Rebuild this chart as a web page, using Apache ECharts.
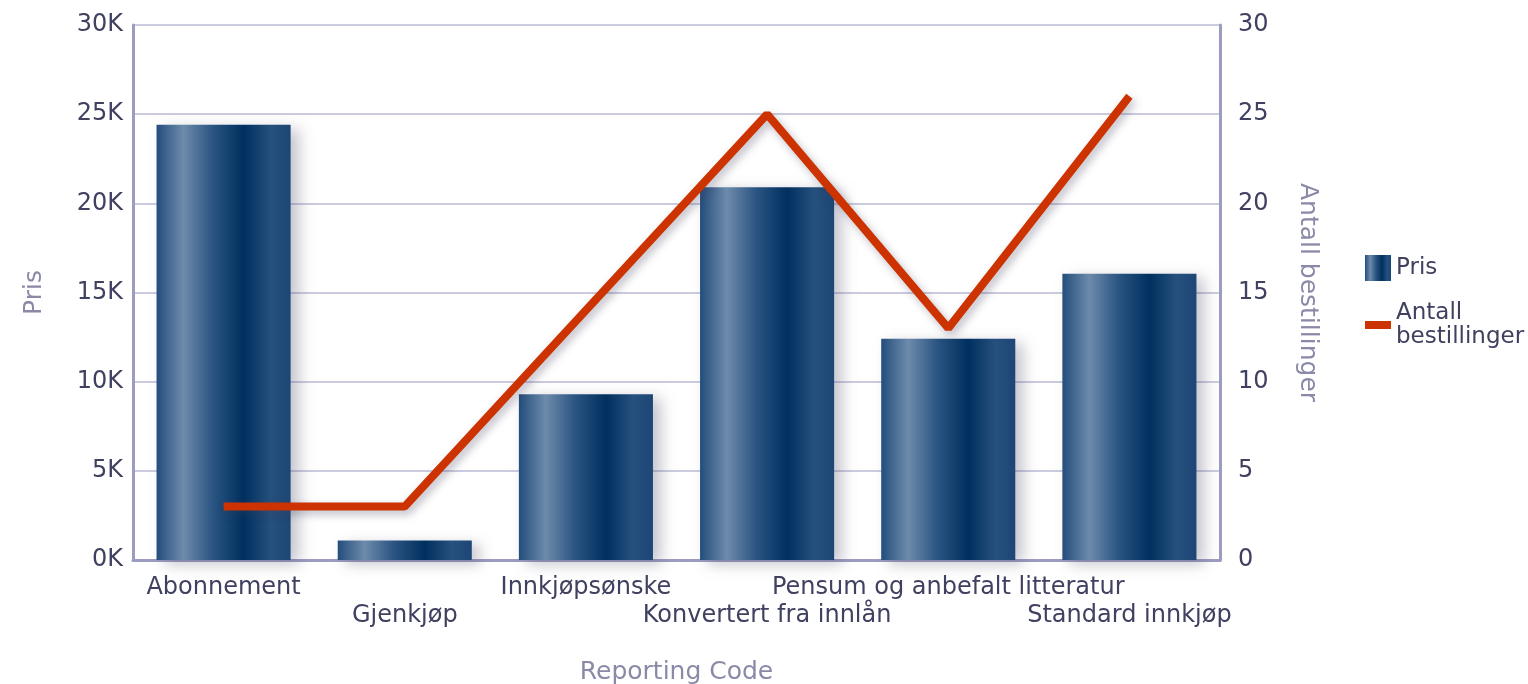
<!DOCTYPE html>
<html>
<head>
    <meta charset="utf-8">
    <script src="https://cdn.jsdelivr.net/npm/echarts@6/dist/echarts.min.js"></script>
    <style>
        html, body { margin: 0; padding: 0; background: #fff; }
        #main { width: 1528px; height: 684px; }
    </style>
</head>
<body>
    <div id="main"></div>
    <script>
        // data
        var categories = ['Abonnement', 'Gjenkjøp', 'Innkjøpsønske', 'Konvertert fra innlån', 'Pensum og anbefalt litteratur', 'Standard innkjøp'];
        var prisValues = [24400, 1100, 9300, 20900, 12400, 16050];
        var antallValues = [3, 3, 14, 25, 13, 26];

        var chart = echarts.init(document.getElementById('main'));

        var txt = '#404060';
        var nameCol = '#8a8aa8';
        var font = 'DejaVu Sans';

        var barGrad = new echarts.graphic.LinearGradient(0, 0, 1, 0, [
            { offset: 0, color: '#244d7c' },
            { offset: 0.2, color: '#6d8bab' },
            { offset: 0.42, color: '#2a5482' },
            { offset: 0.65, color: '#00305f' },
            { offset: 0.85, color: '#26507e' },
            { offset: 1, color: '#1d4676' }
        ]);

        var option = {
            animation: false,
            grid: { left: 133, right: 308, top: 25, bottom: 124, outerBoundsMode: 'none' },
            legend: {
                orient: 'vertical',
                left: 1360,
                top: 250,
                itemGap: 20,
                itemWidth: 26,
                itemHeight: 26,
                textStyle: { color: txt, fontFamily: font, fontSize: 23, lineHeight: 24 },
                data: [
                    { name: 'Pris', icon: 'rect', itemStyle: { color: barGrad } },
                    { name: 'Antall\nbestillinger', icon: 'path://M0,9 L26,9 L26,17 L0,17 Z', itemStyle: { color: '#cc3300' } }
                ]
            },
            xAxis: {
                type: 'category',
                data: categories,
                name: 'Reporting Code',
                nameLocation: 'middle',
                nameGap: 100,
                nameTextStyle: { color: nameCol, fontFamily: font, fontSize: 25 },
                axisLine: { lineStyle: { color: '#9c9cc0', width: 3 } },
                axisTick: { show: false },
                axisLabel: {
                    interval: 0,
                    color: txt,
                    fontFamily: font,
                    fontSize: 24,
                    lineHeight: 28,
                    margin: 14,
                    formatter: function (v, i) { return i % 2 ? '\n' + v : v; }
                }
            },
            yAxis: [{
                type: 'value',
                min: 0, max: 30000, interval: 5000,
                name: 'Pris',
                nameLocation: 'middle',
                nameGap: 86,
                nameTextStyle: { color: nameCol, fontFamily: font, fontSize: 25 },
                axisLine: { show: true, lineStyle: { color: '#9c9cc0', width: 3 } },
                axisLabel: {
                    color: txt, fontFamily: font, fontSize: 24, margin: 10,
                    formatter: function (v) { return (v / 1000) + 'K'; }
                },
                splitLine: { lineStyle: { color: '#cbcbe0', width: 2 } }
            }, {
                type: 'value',
                min: 0, max: 30, interval: 5,
                name: 'Antall bestillinger',
                nameLocation: 'middle',
                nameGap: 75,
                nameRotate: -90,
                nameTextStyle: { color: nameCol, fontFamily: font, fontSize: 25 },
                axisLine: { show: true, lineStyle: { color: '#9c9cc0', width: 3 } },
                axisLabel: { color: txt, fontFamily: font, fontSize: 24, margin: 18 },
                splitLine: { show: false }
            }],
            series: [{
                name: 'Pris',
                type: 'bar',
                data: prisValues,
                barWidth: '74%',
                itemStyle: {
                    color: barGrad,
                    shadowColor: 'rgba(60,60,90,0.3)',
                    shadowBlur: 14,
                    shadowOffsetX: 8,
                    shadowOffsetY: 4
                }
            }, {
                name: 'Antall\nbestillinger',
                type: 'line',
                yAxisIndex: 1,
                data: antallValues,
                symbol: 'none',
                lineStyle: {
                    color: '#cc3300',
                    width: 8,
                    shadowColor: 'rgba(60,60,90,0.35)',
                    shadowBlur: 8,
                    shadowOffsetX: 3,
                    shadowOffsetY: 4
                },
                itemStyle: { color: '#cc3300' }
            }]
        };

        chart.setOption(option);

        window.onresize = function () {
            chart.resize();
        };
    </script>
</body>
</html>
